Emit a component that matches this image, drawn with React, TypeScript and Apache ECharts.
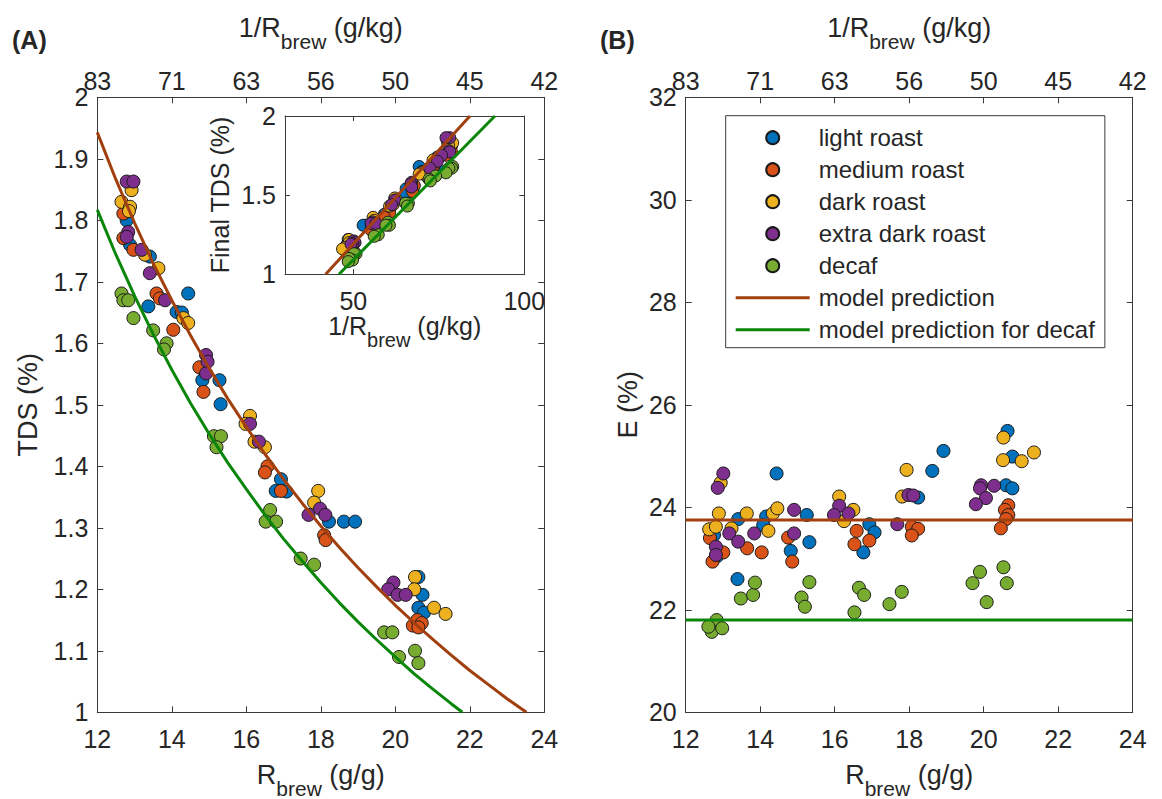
import React, { useEffect, useRef } from 'react';
import * as echarts from 'echarts';

const FONT = '"Liberation Sans", Arial, Helvetica, sans-serif';
const TXT = '#262626';
const AX = '#3a3a3a';
const FS = 25; // tick labels
const FT = 27; // axis titles
const FL = 24; // legend

// ---- tick values / labels ----
const rTicks = [12, 14, 16, 18, 20, 22, 24];
const invRTickLabels = ['83', '71', '63', '56', '50', '45', '42'];
const tdsTicks = [1, 1.1, 1.2, 1.3, 1.4, 1.5, 1.6, 1.7, 1.8, 1.9, 2];
const eTicks = [20, 22, 24, 26, 28, 30, 32];
const insetXTicks = [50, 100];
const insetYTicks = [1, 1.5, 2];

// ---- series names / colours ----
const names = ['light roast', 'medium roast', 'dark roast', 'extra dark roast', 'decaf'];
const colors = ['#0072BD', '#D95319', '#EDB120', '#7E2F8E', '#77AC30'];
const modelNames = ['model prediction', 'model prediction for decaf'];
const modelColors = ['#A1400E', '#0A860A'];

// ---- Panel A: [R_brew, TDS] ----
const lightA = [[12.81, 1.811], [12.79, 1.8], [12.88, 1.76], [13.41, 1.741], [13.37, 1.66], [14.44, 1.681], [14.13, 1.651], [14.27, 1.65], [14.82, 1.54], [15.28, 1.54], [15.31, 1.501], [16.93, 1.379], [16.79, 1.36], [17.08, 1.359], [18.22, 1.31], [18.62, 1.31], [18.92, 1.31], [20.62, 1.22], [20.73, 1.191], [20.62, 1.17], [20.77, 1.162]];
const mediumA = [[12.7, 1.811], [12.7, 1.771], [12.97, 1.752], [13.59, 1.681], [13.68, 1.673], [14.04, 1.622], [14.74, 1.561], [14.85, 1.521], [16.57, 1.4], [16.5, 1.39], [16.93, 1.36], [18.09, 1.288], [18.13, 1.28], [20.47, 1.141], [20.59, 1.15], [20.71, 1.145], [20.62, 1.138]];
const darkA = [[12.92, 1.849], [12.65, 1.83], [12.88, 1.822], [12.85, 1.815], [13.28, 1.744], [13.64, 1.722], [14.31, 1.641], [14.44, 1.633], [16.1, 1.482], [15.98, 1.469], [16.5, 1.431], [16.22, 1.44], [17.93, 1.36], [17.82, 1.341], [20.53, 1.22], [20.51, 1.2], [21.04, 1.17], [21.35, 1.16]];
const xdarkA = [[12.79, 1.863], [12.97, 1.863], [12.83, 1.781], [12.79, 1.773], [13.19, 1.752], [13.41, 1.714], [13.82, 1.67], [14.92, 1.581], [14.96, 1.57], [14.92, 1.551], [16.1, 1.469], [16.34, 1.44], [17.98, 1.331], [18.12, 1.321], [17.67, 1.321], [19.95, 1.211], [19.81, 1.2], [20.06, 1.191], [20.28, 1.191]];
const decafA = [[12.65, 1.681], [12.7, 1.67], [12.83, 1.67], [12.97, 1.641], [13.5, 1.621], [13.86, 1.6], [13.79, 1.59], [15.13, 1.449], [15.32, 1.449], [15.2, 1.431], [16.64, 1.329], [16.52, 1.31], [16.8, 1.31], [17.46, 1.25], [17.82, 1.24], [19.7, 1.13], [19.92, 1.13], [20.1, 1.09], [20.53, 1.1], [20.62, 1.08]];

// model curves (R_brew, TDS)
const modelA = [[12, 1.943], [12.5, 1.866], [13, 1.796], [13.5, 1.73], [14, 1.67], [14.5, 1.613], [15, 1.56], [15.5, 1.51], [16, 1.464], [16.5, 1.42], [17, 1.379], [17.5, 1.34], [18, 1.303], [18.5, 1.268], [19, 1.235], [19.5, 1.204], [20, 1.174], [20.5, 1.146], [21, 1.119], [21.5, 1.093], [22, 1.068], [22.5, 1.045], [23, 1.022], [23.52, 1.0]];
const modelDecafA = [[12, 1.817], [12.5, 1.744], [13, 1.677], [13.5, 1.615], [14, 1.557], [14.5, 1.503], [15, 1.453], [15.5, 1.406], [16, 1.363], [16.5, 1.321], [17, 1.282], [17.5, 1.246], [18, 1.211], [18.5, 1.178], [19, 1.147], [19.5, 1.118], [20, 1.09], [20.5, 1.063], [21, 1.038], [21.5, 1.014], [21.8, 1.0]];

// inset lines [1/R_brew (g/kg), TDS]
const modelInset = [[41.9, 1], [84.1, 2]];
const modelDecafInset = [[45.8, 1], [91.4, 2]];

// ---- Panel B: [R_brew, E] ----
const lightB = [[12.76, 23.46], [12.85, 23.05], [13.41, 23.77], [14.16, 23.82], [14.08, 23.65], [14.44, 24.66], [13.39, 22.6], [15.25, 23.85], [14.82, 23.15], [15.32, 23.32], [16.93, 23.67], [17.07, 23.51], [16.77, 23.12], [18.62, 24.71], [18.92, 25.1], [18.24, 24.19], [20.64, 25.49], [20.77, 24.99], [20.6, 24.43], [20.77, 24.37]];
const mediumB = [[12.65, 23.4], [13.01, 23.12], [12.72, 22.94], [13.65, 23.2], [14.04, 23.12], [14.75, 23.41], [14.86, 22.94], [16.59, 23.54], [16.53, 23.28], [16.93, 23.35], [18.07, 23.62], [18.24, 23.58], [18.07, 23.45], [20.66, 24.04], [20.57, 23.95], [20.66, 23.85], [20.6, 23.77], [20.46, 23.59]];
const darkB = [[12.94, 24.48], [12.89, 23.88], [12.63, 23.57], [12.81, 23.62], [13.23, 23.59], [13.64, 23.88], [14.22, 23.54], [14.34, 23.88], [14.46, 23.98], [16.12, 24.21], [16.5, 23.95], [16.25, 23.73], [17.93, 24.73], [17.81, 24.21], [20.53, 25.36], [20.52, 24.92], [21.02, 24.9], [21.35, 25.07]];
const xdarkB = [[13.01, 24.66], [12.86, 24.38], [12.81, 23.23], [12.81, 23.07], [13.17, 23.49], [13.41, 23.33], [13.84, 23.49], [14.91, 23.95], [14.91, 23.49], [16.12, 24.03], [15.98, 23.85], [16.37, 23.88], [17.98, 24.24], [18.11, 24.23], [17.68, 23.67], [19.93, 24.43], [19.9, 24.37], [20.28, 24.42], [20.06, 24.18], [19.79, 24.06]];
const decafB = [[12.83, 21.8], [12.7, 21.57], [12.98, 21.64], [12.61, 21.67], [13.48, 22.22], [13.81, 22.29], [13.86, 22.53], [15.11, 22.24], [15.2, 22.06], [15.32, 22.54], [16.65, 22.43], [16.79, 22.29], [16.53, 21.95], [17.47, 22.11], [17.8, 22.35], [19.9, 22.74], [19.7, 22.52], [20.53, 22.83], [20.62, 22.52], [20.08, 22.15]];

const modelB = [[12, 23.75], [24, 23.75]];
const modelDecafB = [[12, 21.8], [24, 21.8]];

const groupsA = [lightA, mediumA, darkA, xdarkA, decafA];
const groupsB = [lightB, mediumB, darkB, xdarkB, decafB];

function findTick(ticks: number[], v: number) {
  return ticks.find((x) => Math.abs(x - v) < 1e-6);
}

const labelStyle = { color: TXT, fontSize: FS, fontFamily: FONT };

function axisCommon(min: number, max: number, interval: number) {
  return {
    type: 'value',
    min,
    max,
    interval,
    axisLine: { show: true, onZero: false, lineStyle: { color: AX, width: 1 } },
    axisTick: { show: true, inside: true, length: 6, lineStyle: { color: AX, width: 1 } },
    splitLine: { show: false },
  };
}

function xAxes(grid: number) {
  return [
    {
      ...axisCommon(12, 24, 2),
      gridIndex: grid,
      position: 'bottom',
      axisLabel: { ...labelStyle, margin: 14, formatter: (v: number) => { const t = findTick(rTicks, v); return t === undefined ? '' : String(t); } },
    },
    {
      ...axisCommon(12, 24, 2),
      gridIndex: grid,
      position: 'top',
      axisLabel: { ...labelStyle, margin: 4, formatter: (v: number) => { const i = rTicks.findIndex((x) => Math.abs(x - v) < 1e-6); return i < 0 ? '' : invRTickLabels[i]; } },
    },
  ];
}

function yAxes(grid: number, min: number, max: number, interval: number, ticks: number[]) {
  return [
    {
      ...axisCommon(min, max, interval),
      gridIndex: grid,
      position: 'left',
      axisLabel: { ...labelStyle, margin: 9, formatter: (v: number) => { const t = findTick(ticks, v); return t === undefined ? '' : String(t); } },
    },
    {
      ...axisCommon(min, max, interval),
      gridIndex: grid,
      position: 'right',
      axisLabel: { show: false },
    },
  ];
}

function scatter(name: string, color: string, data: number[][], xi: number, yi: number, size = 13) {
  return {
    type: 'scatter',
    name,
    xAxisIndex: xi,
    yAxisIndex: yi,
    data,
    symbol: 'circle',
    symbolSize: size,
    itemStyle: { color, borderColor: '#1a1a1a', borderWidth: 1, opacity: 1 },
    emphasis: { disabled: true },
    silent: true,
    z: 3,
  };
}

function line(name: string, color: string, data: number[][], xi: number, yi: number) {
  return {
    type: 'line',
    name,
    xAxisIndex: xi,
    yAxisIndex: yi,
    data,
    symbol: 'none',
    showSymbol: false,
    smooth: false,
    lineStyle: { color, width: 3 },
    itemStyle: { color, borderWidth: 0 },
    emphasis: { disabled: true },
    silent: true,
    z: 5,
  };
}

function subTitle(x: number, y: number, main: string, sub: string, rest: string, fm: number, fsub: number, pad: number) {
  const m = { fontSize: fm, fontFamily: FONT, fill: TXT, color: TXT, verticalAlign: 'top' };
  const s = { fontSize: fsub, fontFamily: FONT, fill: TXT, color: TXT, verticalAlign: 'top', padding: [pad, 0, 0, 0] };
  return {
    type: 'text',
    x,
    y,
    silent: true,
    style: {
      text: `{m|${main}}{s|${sub}}{m|${rest}}`,
      rich: { m, s },
      align: 'center',
      verticalAlign: 'top',
    },
  };
}

function plainText(x: number, y: number, text: string, size: number, rotation = 0, bold = false) {
  return {
    type: 'text',
    x,
    y,
    rotation,
    silent: true,
    style: {
      text,
      fontSize: size,
      fontFamily: FONT,
      fontWeight: bold ? 'bold' : 'normal',
      fill: TXT,
      align: rotation ? 'center' : 'left',
      verticalAlign: 'middle',
    },
  };
}

export default function App() {
  const ref = useRef<HTMLDivElement>(null);

  useEffect(() => {
    if (!ref.current) return;
    const chart = echarts.init(ref.current, undefined, { renderer: 'svg' });

    const gridA = { left: 97.3, top: 97.3, width: 447, height: 615 };
    const gridB = { left: 685.7, top: 97.3, width: 447, height: 615 };
    const gridI = { left: 285, top: 116, width: 239.3, height: 158.3 };

    const insetGroups = groupsA.map((g) => g.map((p) => [1000 / p[0], p[1]]));

    const series: any[] = [];
    groupsA.forEach((g, i) => series.push(scatter(names[i], colors[i], g, 0, 0)));
    series.push(line(modelNames[0], modelColors[0], modelA, 0, 0));
    series.push(line(modelNames[1], modelColors[1], modelDecafA, 0, 0));
    groupsB.forEach((g, i) => series.push(scatter(names[i], colors[i], g, 2, 2)));
    series.push(line(modelNames[0], modelColors[0], modelB, 2, 2));
    series.push(line(modelNames[1], modelColors[1], modelDecafB, 2, 2));
    insetGroups.forEach((g, i) => series.push(scatter(names[i], colors[i], g, 4, 4, 12)));
    series.push(line(modelNames[0], modelColors[0], modelInset, 4, 4));
    series.push(line(modelNames[1], modelColors[1], modelDecafInset, 4, 4));

    const insetX = [
      {
        ...axisCommon(30, 100, 10),
        gridIndex: 2,
        position: 'bottom',
        axisTick: { show: true, inside: true, length: 5, customValues: insetXTicks, lineStyle: { color: AX } },
        axisLabel: { ...labelStyle, margin: 14, customValues: insetXTicks, formatter: (v: number) => String(v) },
      },
      {
        ...axisCommon(30, 100, 10),
        gridIndex: 2,
        position: 'top',
        axisTick: { show: true, inside: true, length: 5, customValues: insetXTicks, lineStyle: { color: AX } },
        axisLabel: { show: false },
      },
    ];
    const insetY = [
      {
        ...axisCommon(1, 2, 0.5),
        gridIndex: 2,
        position: 'left',
        axisTick: { show: true, inside: true, length: 5, lineStyle: { color: AX } },
        axisLabel: { ...labelStyle, margin: 9, formatter: (v: number) => { const t = findTick(insetYTicks, v); return t === undefined ? '' : String(t); } },
      },
      {
        ...axisCommon(1, 2, 0.5),
        gridIndex: 2,
        position: 'right',
        axisTick: { show: true, inside: true, length: 5, lineStyle: { color: AX } },
        axisLabel: { show: false },
      },
    ];

    const lineIcon = 'path://M0 0H74V3H0Z';

    chart.setOption({
      animation: false,
      backgroundColor: '#ffffff',
      grid: [
        { ...gridA, containLabel: false, outerBoundsMode: 'none', show: false },
        { ...gridB, containLabel: false, outerBoundsMode: 'none', show: false },
        { ...gridI, containLabel: false, outerBoundsMode: 'none', show: true, backgroundColor: '#ffffff', borderWidth: 0 },
      ],
      xAxis: [...xAxes(0), ...xAxes(1), ...insetX],
      yAxis: [...yAxes(0, 1, 2, 0.1, tdsTicks), ...yAxes(1, 20, 32, 2, eTicks), ...insetY],
      legend: {
        show: true,
        orient: 'vertical',
        left: 725.7,
        top: 115.7,
        padding: [6, 10, 2, 10],
        itemWidth: 74,
        itemHeight: 13,
        itemGap: 0,
        borderColor: AX,
        borderWidth: 1,
        backgroundColor: '#ffffff',
        selectedMode: false,
        textStyle: { color: TXT, fontSize: FL, fontFamily: FONT, lineHeight: 32, padding: [0, 0, 0, 4] },
        data: [
          ...names.map((n) => ({ name: n, icon: 'circle' })),
          { name: modelNames[0], icon: lineIcon, itemStyle: { color: modelColors[0], borderWidth: 0 } },
          { name: modelNames[1], icon: lineIcon, itemStyle: { color: modelColors[1], borderWidth: 0 } },
        ],
      },
      graphic: {
        elements: [
          plainText(12, 40, '(A)', 25, 0, true),
          plainText(600, 40, '(B)', 25, 0, true),
          subTitle(320.8, 14.5, '1/R', 'brew', ' (g/kg)', FT, 21, 16),
          subTitle(909.2, 14.5, '1/R', 'brew', ' (g/kg)', FT, 21, 16),
          subTitle(320.8, 761.5, 'R', 'brew', ' (g/g)', FT, 21, 16),
          subTitle(909.2, 761.5, 'R', 'brew', ' (g/g)', FT, 21, 16),
          subTitle(404.7, 313.5, '1/R', 'brew', ' (g/kg)', 25, 20, 16),
          plainText(28, 404.8, 'TDS (%)', FT, Math.PI / 2),
          plainText(628, 404.8, 'E (%)', FT, Math.PI / 2),
          plainText(220, 195, 'Final TDS (%)', 25, Math.PI / 2),
        ],
      },
      series,
    });

    return () => {
      chart.dispose();
    };
  }, []);

  return (
    <div
      ref={ref}
      style={{ position: 'absolute', left: 0, top: 0, width: 1162, height: 799, background: '#fff' }}
    />
  );
}
